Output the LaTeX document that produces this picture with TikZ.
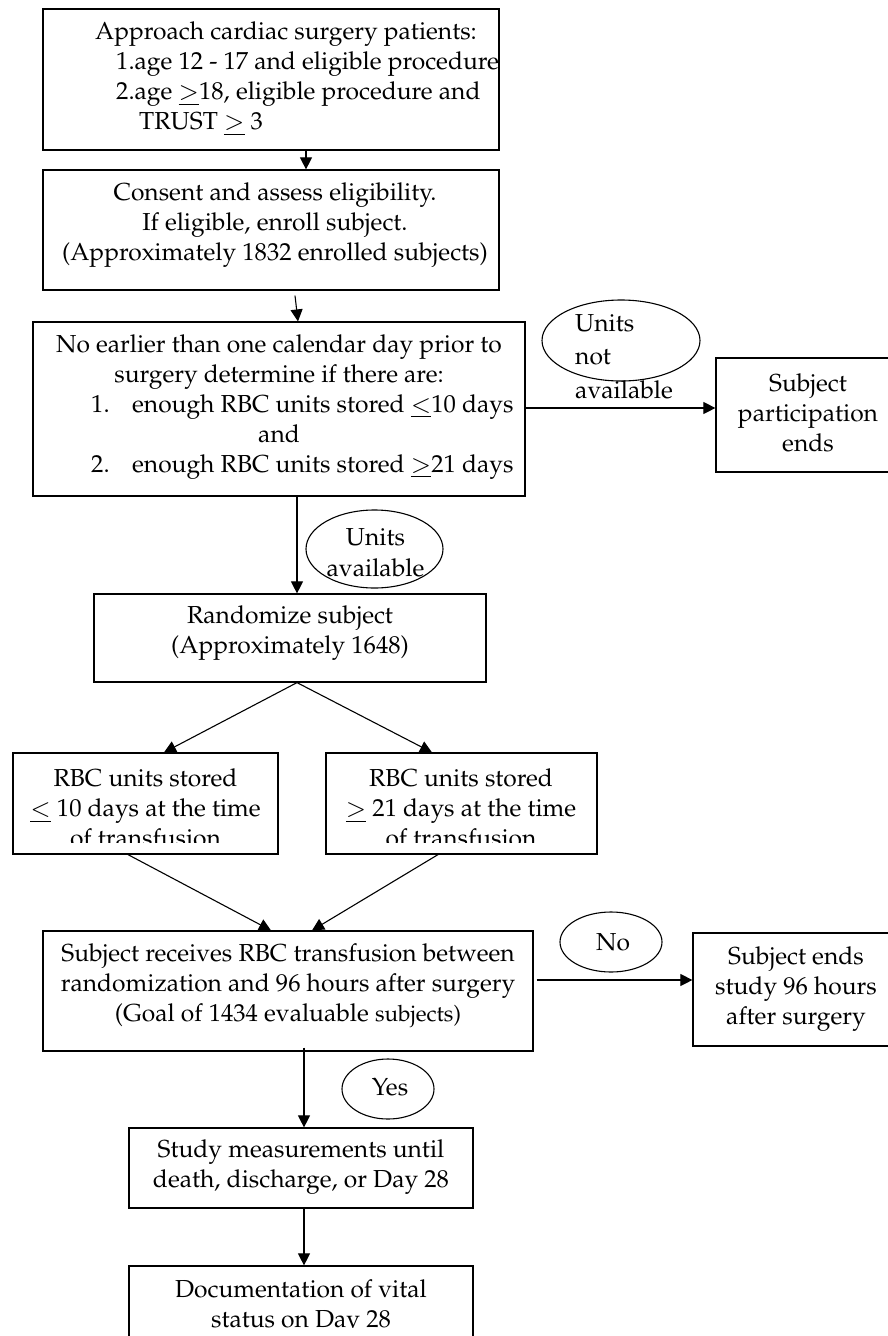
\documentclass[tikz,border=0pt]{standalone}
\usepackage[T1]{fontenc}
\usepackage{mathpazo}
\usetikzlibrary{arrows.meta,shapes.geometric,calc}
\tikzset{
  box/.style={draw, line width=1.2pt, inner sep=0pt, rectangle},
  oval/.style={draw, line width=1.1pt, ellipse, inner sep=0pt},
  txt/.style={inner sep=0pt, font=\fontsize{24.6}{30}\selectfont},
  arr/.style={line width=1.1pt, -{Triangle[length=12pt,width=12pt]}},
  ln/.style={line width=1.1pt}
}
\newcommand{\bx}[6]{\node[box, minimum width={#4-#2}, minimum height={#5-#3}] (#1) at ({(#2+#4)/2},{(#3+#5)/2}) {#6};}
\newcommand{\myle}{\ensuremath{\mathrel{\underline{<}}}}
\newcommand{\myge}{\ensuremath{\mathrel{\underline{>}}}}
\begin{document}
\begin{tikzpicture}[x=1pt,y=-1pt]
\useasboundingbox (0,0) rectangle (888,1336);
% boxes
\bx{b1}{43}{9}{499}{150}{}
\bx{b2}{43}{170}{499}{290}{}
\bx{b3}{33}{322}{525}{496}{}
\bx{b4}{716}{358}{900}{472}{}
\bx{b5}{94}{594}{486}{682}{}
\bx{b6}{13}{753}{278}{854}{}
\bx{b7}{326}{753}{597}{854}{}
\bx{b8}{43}{931}{533}{1051}{}
\bx{b9}{693}{933}{900}{1046}{}
\bx{b10}{129}{1128}{473}{1208}{}
\bx{b11}{129}{1266}{473}{1350}{}
% ovals
\node[oval, minimum width=158pt, minimum height=81pt] (e1) at (621,340.5) {};
\node[oval, minimum width=137pt, minimum height=78pt] (e2) at (374.5,549) {};
\node[oval, minimum width=102pt, minimum height=60pt] (e3) at (611,942) {};
\node[oval, minimum width=92pt, minimum height=60pt] (e4) at (388,1089) {};
% texts
\node[txt, anchor=west, align=left] (t1) at (95,79) {Approach cardiac surgery patients:\\
\hspace*{21pt}1.age 12 - 17 and eligible procedure\\
\hspace*{21pt}2.age \myge18, eligible procedure and\\
\hspace*{44pt}TRUST \myge\ 3};
\node[txt, align=center] (t2) at (275,225) {Consent and assess eligibility.\\ If eligible, enroll subject.\\ (Approximately 1832 enrolled subjects)};
\node[txt, align=center] (t3a) at (279,362) {No earlier than one calendar day prior to\\ surgery determine if there are:};
\node[txt, anchor=west, align=left] (t3b) at (91,437) {\makebox[41pt][l]{1.}enough RBC units stored \myle10 days\\
\hspace*{167pt}and\\
\makebox[41pt][l]{2.}enough RBC units stored \myge21 days};
\node[txt, anchor=west, align=left, font=\fontsize{24.6}{33.5}\selectfont] (te1) at (575,356.5) {Units\\ not\\ available};
\node[txt, align=center] (t4) at (808,413) {Subject\\ participation\\ ends};
\node[txt, align=center, font=\fontsize{24.6}{31}\selectfont] (te2) at (375.5,552.5) {Units\\ available};
\node[txt, align=center] (t5) at (290,633) {Randomize subject\\ (Approximately 1648)};
\begin{scope}
\clip (0,740) rectangle (888,842);
\node[txt, align=center] (t6) at (145.5,808) {RBC units stored\\ \myle\ 10 days at the time\\ of transfusion};
\node[txt, align=center] (t7) at (461,808) {RBC units stored\\ \myge\ 21 days at the time\\ of transfusion};
\end{scope}
\node[txt, align=center] (t8) at (288,986) {Subject receives RBC transfusion between\\ randomization and 96 hours after surgery\\ (Goal of 1434 evaluable {\fontsize{22.5}{30}\selectfont subjects)}};
\node[txt] (te3) at (613,942) {No};
\node[txt, align=center] (t9) at (796,989.5) {Subject ends\\ study 96 hours\\ after surgery};
\node[txt] (te4) at (390,1087) {Yes};
\node[txt, align=center] (t10) at (301,1167.5) {Study measurements until\\ death, discharge, or Day 28};
\begin{scope}
\clip (0,1250) rectangle (888,1327);
\node[txt, align=center] (t11) at (301,1307) {Documentation of vital\\ status on Day 28};
\end{scope}
% connectors
\draw[arr] ([xshift=35pt]b1.south) -- ([xshift=35pt]b2.north);
\draw[arr] ([xshift=24pt,yshift=-5pt]b2.south) -- ([xshift=19pt]b3.north);
\draw[arr] ([yshift=1pt]b3.east) -- ([yshift=7pt]b4.west);
\draw[arr] ([xshift=18pt]b3.south) -- ([xshift=7pt]b5.north);
\draw[arr] ([xshift=7pt]b5.south) -- ([xshift=18.5pt]b6.north);
\draw[arr] ([xshift=7pt]b5.south) -- ([xshift=-29.5pt]b7.north);
\draw[arr] ([xshift=-17.5pt]b6.south) -- ([xshift=-17pt]b8.north);
\draw[arr] ([xshift=-23.5pt]b7.south) -- ([xshift=24pt]b8.north);
\draw[arr] ([xshift=3pt,yshift=11pt]b8.east) -- ([yshift=9.5pt]b9.west);
\draw[arr] ([xshift=16pt,yshift=4pt]b8.south) -- ([xshift=3pt]b10.north);
\draw[arr] ([xshift=3pt]b10.south) -- ([xshift=3pt]b11.north);
\end{tikzpicture}
\end{document}
